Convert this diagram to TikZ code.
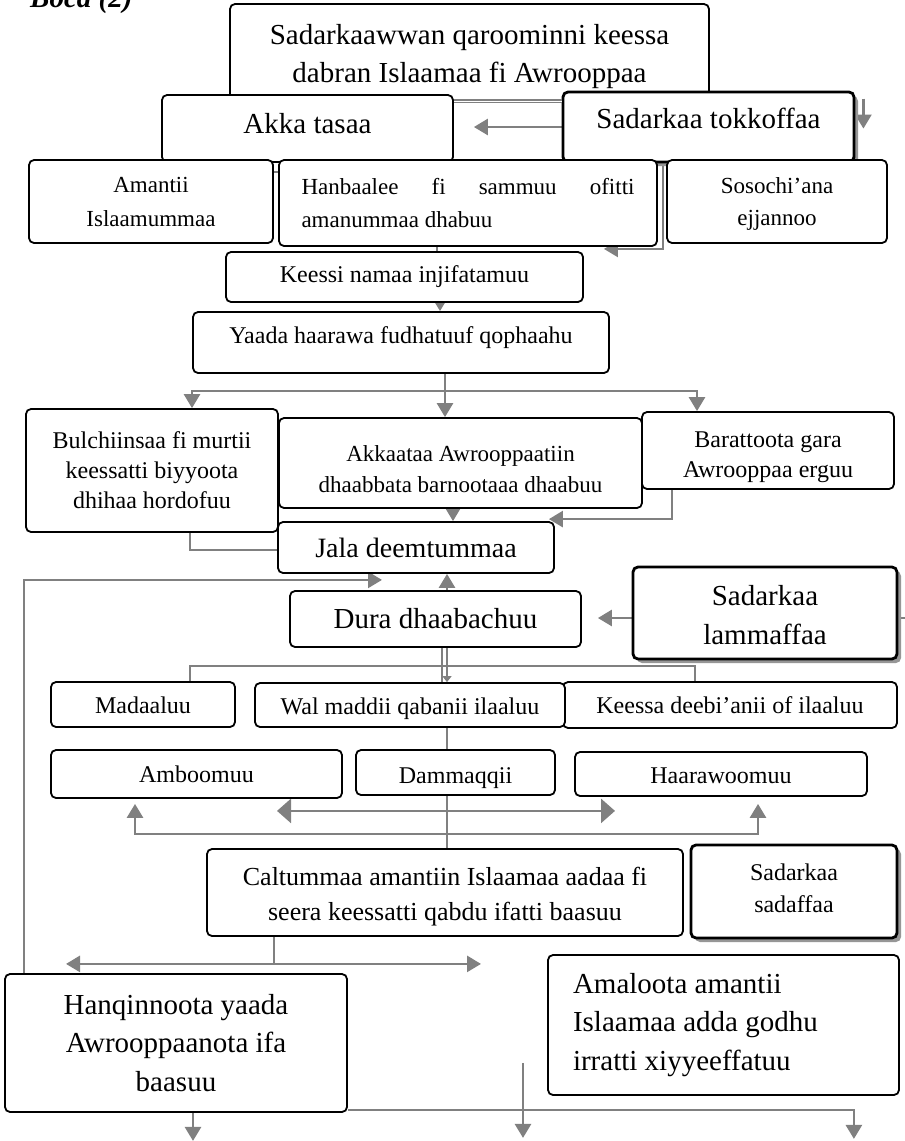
\documentclass[tikz,border=0pt]{standalone}
\usepackage{fontspec}
\setmainfont{Liberation Serif}
\usetikzlibrary{arrows.meta,calc,shadows}
\pgfdeclarelayer{bg}
\pgfsetlayers{bg,main}
\definecolor{cgray}{RGB}{128,128,128}
\definecolor{shgray}{RGB}{150,150,150}
\newcommand{\upd}[1]{\rule[-#1]{0pt}{0pt}}
\newcommand{\dnh}[1]{\rule{0pt}{#1}}
\tikzset{
  box/.style={draw=black, line width=1.8pt, rounded corners=5pt, fill=white, inner sep=0pt, align=center},
  sbox/.style={box, line width=2.8pt, drop shadow={shadow xshift=4pt, shadow yshift=-4pt, fill=shgray, opacity=1}},
  conn/.style={draw=cgray, line width=2.7pt},
  arr/.style={conn, -{Triangle[width=16pt,length=14pt]}},
  bigarr/.style={conn, -{Triangle[width=24pt,length=14pt]}},
  fbig/.style={font=\fontsize{29pt}{38pt}\selectfont},
  fbigb/.style={font=\fontsize{29pt}{38.5pt}\selectfont},
  fsad/.style={font=\fontsize{29pt}{39pt}\selectfont},
  fjala/.style={font=\fontsize{28pt}{36pt}\selectfont},
  fcal/.style={font=\fontsize{26pt}{35pt}\selectfont},
  fmed/.style={font=\fontsize{24pt}{30pt}\selectfont},
  fmeds/.style={font=\fontsize{24pt}{32pt}\selectfont},
  fsma/.style={font=\fontsize{23pt}{34pt}\selectfont},
  fsmb/.style={font=\fontsize{23pt}{33pt}\selectfont},
  fsmc/.style={font=\fontsize{23pt}{32pt}\selectfont},
  fsmd/.style={font=\fontsize{23pt}{31pt}\selectfont}
}
\begin{document}
\begin{tikzpicture}[x=1pt,y=-1pt]
\useasboundingbox (0,0) rectangle (905,1141);
\begin{pgfonlayer}{bg}
\fill[white] (0,0) rectangle (905,1141);
\end{pgfonlayer}

\node[font=\fontsize{29pt}{35pt}\selectfont\bfseries\itshape, anchor=base west, inner sep=0pt] (boca) at (30,7) {Boca (2)};

% boxes
\node[box, fbig, minimum width=479pt, minimum height=98pt] (top) at (469.5,53)
  {\dnh{28pt}Sadarkaawwan qaroominni keessa\\dabran Islaamaa fi Awrooppaa};
\node[box, fbig, minimum width=291pt, minimum height=67pt] (akka) at (307.5,128.5)
  {Akka tasaa\upd{11pt}};
\node[sbox, fbig, minimum width=291pt, minimum height=70pt] (sad1) at (708.5,127)
  {Sadarkaa tokkoffaa\upd{18pt}};
\node[box, fsma, minimum width=244pt, minimum height=83pt] (amantii) at (151,201.5)
  {Amantii\\Islaamummaa};
\node[box, fsmb, minimum width=378pt, minimum height=86pt, text width=333pt, align=left] (hanb) at (468,203)
  {\hbox to 333pt{Hanbaalee\hfill fi\hfill sammuu\hfill ofitti}\\\spaceskip=0pt amanummaa dhabuu};
\node[box, fsmc, minimum width=220pt, minimum height=83pt] (sosochi) at (777,201.5)
  {\dnh{20pt}Sosochi’ana\\ejjannoo};
\node[box, fmed, minimum width=357pt, minimum height=50pt] (keessi) at (404.5,277)
  {Keessi namaa injifatamuu};
\node[box, fmed, minimum width=416pt, minimum height=61pt] (yaada) at (401,342.5)
  {Yaada haarawa fudhatuuf qophaahu\upd{15.4pt}};
\node[box, fmed, minimum width=252pt, minimum height=123pt] (bulch) at (152,470.5)
  {Bulchiinsaa fi murtii\\keessatti biyyoota\\dhihaa hordofuu};
\node[box, fsmd, minimum width=363pt, minimum height=90pt] (akkaataa) at (460.5,463)
  {\dnh{29pt}Akkaataa Awrooppaatiin\\dhaabbata barnootaaa dhaabuu};
\node[box, fmed, minimum width=252pt, minimum height=77pt] (baratt) at (768,450.5)
  {\dnh{28.4pt}Barattoota gara\\Awrooppaa erguu};
\node[box, fjala, minimum width=276pt, minimum height=51pt] (jala) at (416,547.5)
  {Jala deemtummaa};
\node[box, fbig, minimum width=291pt, minimum height=56pt] (dura) at (435.5,619)
  {Dura dhaabachuu};
\node[sbox, fsad, minimum width=264pt, minimum height=92pt] (sad2) at (765,613)
  {\dnh{25pt}Sadarkaa\\lammaffaa};
\node[box, fmed, minimum width=334pt, minimum height=46pt] (keessa) at (730,705)
  {Keessa deebi’anii of ilaaluu};
\node[box, fmed, minimum width=310pt, minimum height=44pt] (walm) at (410,705)
  {\dnh{25pt}Wal maddii qabanii ilaaluu};
\node[box, fmed, minimum width=184pt, minimum height=45pt] (mada) at (143,704.5)
  {\dnh{19pt}Madaaluu};
\node[box, fmed, minimum width=291pt, minimum height=48pt] (ambo) at (196.5,774)
  {Amboomuu};
\node[box, fmed, minimum width=199pt, minimum height=45pt] (damm) at (455.5,772.5)
  {\dnh{26.4pt}Dammaqqii};
\node[box, fmed, minimum width=292pt, minimum height=44pt] (haar) at (721,774)
  {\dnh{19pt}Haarawoomuu};
\node[box, fcal, minimum width=476pt, minimum height=87pt] (calt) at (445,892.5)
  {\dnh{26pt}Caltummaa amantiin Islaamaa aadaa fi\\seera keessatti qabdu ifatti baasuu};
\node[sbox, fmeds, minimum width=206pt, minimum height=93pt] (sad3) at (794,891.5)
  {Sadarkaa\\sadaffaa\upd{7.4pt}};
\node[box, fbigb, minimum width=342pt, minimum height=138pt] (hanq) at (176,1043)
  {Hanqinnoota yaada\\Awrooppaanota ifa\\baasuu};
\node[box, fbigb, minimum width=351pt, minimum height=140pt, text width=301pt, align=left] (amal) at (723.5,1025)
  {\spaceskip=0pt\xspaceskip=0pt Amaloota amantii\\Islaamaa adda godhu\\irratti xiyyeeffatuu};

% connectors on top
\draw[cgray, double=white, double distance=1pt, line width=1.2pt]
  ([yshift=-7pt]akka.north east) -- ([yshift=-7pt]akka.north east -| sad1.west);

\begin{pgfonlayer}{bg}
\draw[arr, shorten >=20pt] (sad1.west) -- (sad1.west -| akka.east);
\draw[arr] ([xshift=8pt,yshift=-8pt]sad1.north east) -- ([xshift=8pt,yshift=-38pt]sad1.north east);
\draw[conn] ([yshift=-13pt]amantii.north east) -- ([yshift=-13pt]amantii.north east -| hanb.west);
\draw[arr] ([xshift=5pt,yshift=-2pt]hanb.north east) -- ([xshift=5pt,yshift=-2pt]hanb.south east) -- ([xshift=-54pt,yshift=-2pt]hanb.south east);
\draw[conn] ([xshift=-31pt]hanb.south) -- ([xshift=-31pt]hanb.south |- keessi.north);
\draw[arr] ([xshift=35.5pt]keessi.south) -- ([xshift=35.5pt]keessi.south |- yaada.north);
\coordinate (yj) at ([xshift=44pt,yshift=-17pt]yaada.south);
\draw[arr] ([xshift=44pt]yaada.south) -- (yj |- akkaataa.north);
\draw[arr] (yj) -| ([xshift=40pt]bulch.north);
\draw[arr] (yj) -| ([xshift=-71pt]baratt.north);
\draw[arr] ([xshift=-7.5pt]akkaataa.south) -- ([xshift=-7.5pt]akkaataa.south |- jala.north);
\draw[arr] ([xshift=-96pt]baratt.south) |- ([xshift=-6pt,yshift=2pt]jala.north east);
\draw[conn] ([xshift=38pt]bulch.south) |- ([yshift=-2.5pt]jala.west);
\draw[arr] ([xshift=20pt]hanq.north west) |- ([xshift=-34pt,yshift=-6pt]jala.south);
\draw[arr] ([xshift=11.5pt]dura.north) -- ([xshift=11.5pt]dura.north |- jala.south);
\draw[arr, shorten >=16pt] ([yshift=-5pt]sad2.west) -- ([yshift=-5pt]sad2.west -| dura.east);
\draw[conn] ([yshift=-5pt]sad2.east) -- ++(10,0);
\draw[cgray, line width=1.3pt] ([xshift=6.5pt]dura.south) -- ([xshift=6.5pt]dura.south |- walm.north);
\draw[cgray, line width=1.3pt, -{Triangle[width=9pt,length=6pt]}] ([xshift=11.5pt]dura.south) -- ([xshift=11.5pt]dura.south |- walm.north);
\coordinate (dj) at ([xshift=9pt,yshift=-18pt]dura.south);
\draw[conn] ([xshift=47pt]mada.north) |- (dj) -| ([xshift=-35pt]keessa.north);
\draw[conn] ([xshift=37pt]walm.south) -- ([xshift=37pt]walm.south |- calt.north);
\coordinate (r1) at ($(damm.south)+(-8.5,15)$);
\draw[bigarr] (r1) -- ++(-170,0);
\draw[bigarr] (r1) -- ++(168,0);
\coordinate (r2) at ($(damm.south)+(-8.5,38)$);
\draw[arr] (r2) -| ([xshift=-61.5pt,yshift=-5pt]ambo.south);
\draw[arr] (r2) -| ([xshift=37pt,yshift=-7pt]haar.south);
\coordinate (cj) at ([xshift=-171pt,yshift=-27pt]calt.south);
\draw[conn] ([xshift=-171pt]calt.south) -- (cj);
\draw[arr] (cj) -- ++(-208,0);
\draw[arr] (cj) -- ++(207,0);
\draw[arr] ([xshift=17pt]hanq.south) -- ++(0,28);
\draw[arr] ([yshift=3pt]hanq.south east) -| ++(506,29);
\coordinate (ff) at ([xshift=-200.5pt,yshift=33pt]amal.south);
\draw[arr] (ff) -- ++(0,75);
\end{pgfonlayer}
\end{tikzpicture}
\end{document}
